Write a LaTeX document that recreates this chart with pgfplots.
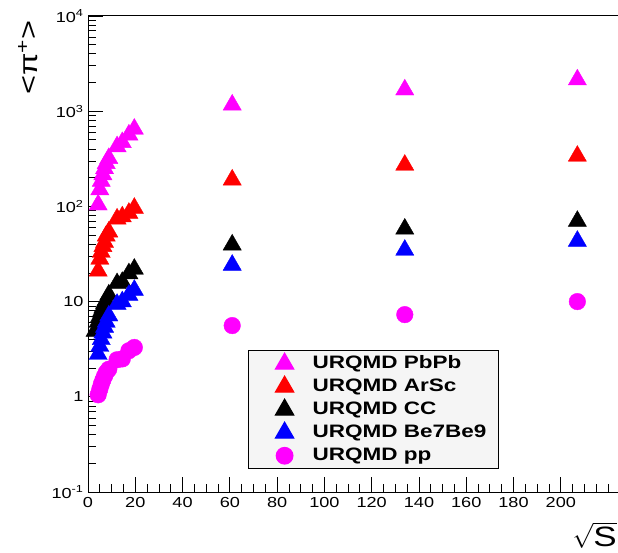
\documentclass[border=0pt]{standalone}
\usepackage{fontspec}
\setmainfont{Liberation Sans}[FakeStretch=1.25]
\usepackage{graphicx}
\usepackage{pgfplots}
\pgfplotsset{compat=1.18}
\definecolor{rmag}{RGB}{255,0,255}
\definecolor{rred}{RGB}{255,0,0}
\definecolor{rblue}{RGB}{0,0,255}
\begin{document}
\begin{tikzpicture}
\useasboundingbox (0,0) rectangle (618pt,552pt);
\begin{axis}[
  at={(88pt,60pt)}, anchor=south west,
  scale only axis, width=531.9pt, height=476pt,
  xmin=0, xmax=225, ymin=0.1, ymax=10000, ymode=log,
  axis x line*=box, axis y line*=left,
  xtick={0,20,...,200}, minor xtick={5,10,...,225},
  ytick={0.1,1,10,100,1000,10000},
  yticklabels={10\textsuperscript{-1},1,10,10\textsuperscript{2},10\textsuperscript{3},10\textsuperscript{4}},
  /pgf/number format/assume math mode=true,
  xtick pos=left, ytick pos=left,
  tick align=inside,
  major tick length=15pt, minor tick length=8pt,
  tick style={black, line width=0.8pt},
  axis line style={line width=1pt},
  ticklabel style={font=\fontsize{14.5}{16}\selectfont},
  xticklabel style={yshift=-2pt},
  yticklabel style={xshift=-1pt},
  legend style={at={(0.3008,0.298)}, anchor=north west, draw=black, line width=1.2pt,
    fill=black!4, inner xsep=10pt, inner ysep=1.5pt, row sep=0pt,
    font=\bfseries\fontsize{18}{20}\selectfont,
    nodes={inner sep=2pt, text height=14pt, text depth=5pt}},
  legend cell align=left,
  legend image code/.code={\path[draw=none,fill=none] (-26pt,0pt) -- (26pt,0pt); \draw[mark repeat=1,#1,draw=none] plot coordinates {(0pt,0pt)};},
]
\addplot[only marks, mark=triangle*, mark size=10.5pt, color=rmag] coordinates {
 (4.3,104) (5.0,150) (5.6,184) (6.3,216) (7.0,250) (7.7,283) (8.8,320) (12.3,425) (14.5,470) (17.3,565) (19.6,650)
 (61,1165) (134,1680) (207,2140)};
\addlegendentry{URQMD PbPb}
\addplot[only marks, mark=triangle*, mark size=10.5pt, color=rred] coordinates {
 (4.3,21) (5.0,28) (5.6,33) (6.3,38) (7.0,42) (7.7,49) (8.8,54) (12.3,74) (14.5,78) (17.3,85) (19.6,96)
 (61,190) (134,272) (207,338)};
\addlegendentry{URQMD ArSc}
\addplot[only marks, mark=triangle*, mark size=10.5pt, color=black] coordinates {
 (3.0,4.9) (4.3,6.1) (5.0,7.0) (5.6,7.8) (6.3,8.6) (7.0,9.6) (7.7,10.3) (8.8,11.8) (12.3,15.5) (14.5,16) (17.3,19.7) (19.6,22)
 (61,39.5) (134,58) (207,70)};
\addlegendentry{URQMD CC}
\addplot[only marks, mark=triangle*, mark size=10.5pt, color=rblue] coordinates {
 (4.3,2.8) (5.0,3.4) (5.6,4.0) (6.3,4.7) (7.0,5.4) (7.7,6.1) (8.8,7.1) (12.3,9.4) (14.5,10) (17.3,11.7) (19.6,13.2)
 (61,24.2) (134,34.8) (207,43.2)};
\addlegendentry{URQMD Be7Be9}
\addplot[only marks, mark=*, mark size=8.3pt, color=rmag] coordinates {
 (4.3,1.05) (5.0,1.2) (5.6,1.35) (6.3,1.5) (7.0,1.65) (7.7,1.8) (8.8,1.95) (12.3,2.45) (14.5,2.5) (17.3,3.05) (19.6,3.3)
 (61,5.6) (134,7.3) (207,10)};
\addlegendentry{URQMD pp}
\end{axis}
\node[rotate=90, anchor=east] at (28pt,535pt) {\fontsize{26}{30}\selectfont <π\textsuperscript{+}>};
\node[anchor=base east, inner sep=0pt] at (617pt,6pt) {\fontsize{28}{32}\selectfont $\sqrt{\mbox{S}}$};
\end{tikzpicture}
\end{document}
